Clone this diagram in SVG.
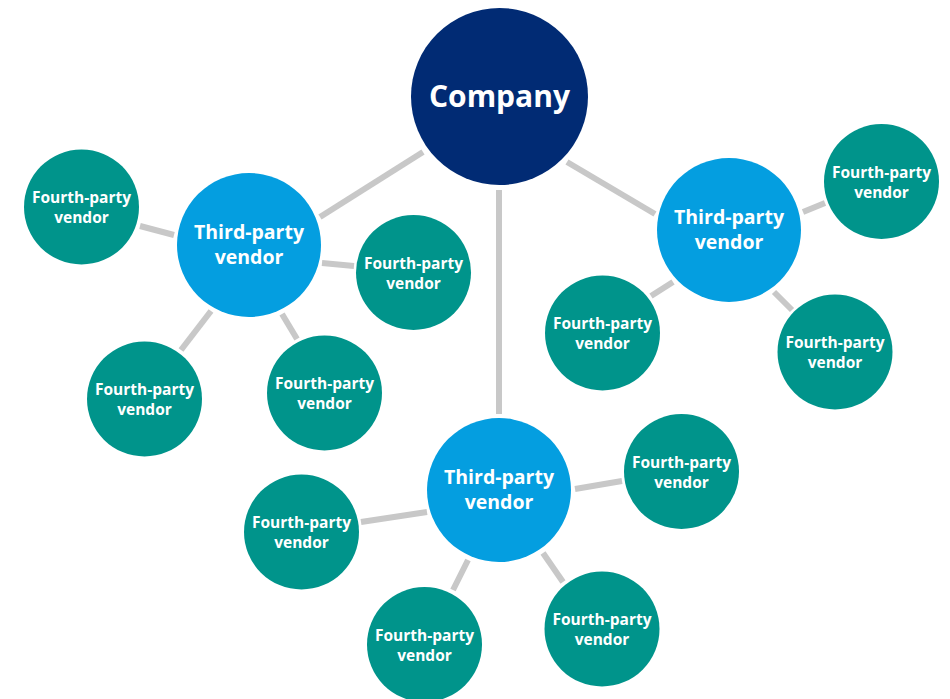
<svg xmlns="http://www.w3.org/2000/svg" width="950" height="699" viewBox="0 0 950 699">
  <style>
    .link { stroke: #c8c8c8; stroke-width: 6; fill: none; }
    .company { fill: #012b74; }
    .third { fill: #049ee0; }
    .fourth { fill: #00948b; }
    text { font-family: "Open Sans", "Liberation Sans", sans-serif; font-weight: 700; fill: #ffffff; text-anchor: middle; }
    .t1 { font-size: 30px; }
    .t3 { font-size: 19.5px; }
    .t4 { font-size: 15.5px; }
  </style>
  <rect width="950" height="699" fill="#ffffff"/>

  <g id="connectors">
    <!-- company to third-party vendors -->
    <line class="link" x1="423" y1="152" x2="320" y2="217"/>
    <line class="link" x1="567" y1="162" x2="655" y2="214"/>
    <line class="link" x1="499" y1="190" x2="499" y2="414"/>
    <!-- left cluster -->
    <line class="link" x1="140" y1="226" x2="174" y2="235"/>
    <line class="link" x1="322" y1="263" x2="354" y2="266"/>
    <line class="link" x1="211" y1="311" x2="181" y2="350"/>
    <line class="link" x1="282" y1="314" x2="297" y2="339"/>
    <!-- right cluster -->
    <line class="link" x1="803" y1="212" x2="825" y2="203"/>
    <line class="link" x1="673" y1="282" x2="651" y2="296"/>
    <line class="link" x1="774" y1="292" x2="792" y2="310"/>
    <!-- bottom cluster -->
    <line class="link" x1="361" y1="522" x2="427" y2="512"/>
    <line class="link" x1="575" y1="489" x2="622" y2="481"/>
    <line class="link" x1="468" y1="560" x2="453" y2="590"/>
    <line class="link" x1="543" y1="553" x2="563" y2="582"/>
  </g>

  <g id="company">
    <circle class="company" cx="499.5" cy="96.5" r="88.5"/>
    <text class="t1" x="499.5" y="107">Company</text>
  </g>

  <g id="third-left">
    <circle class="third" cx="249" cy="245" r="72"/>
    <text class="t3" x="249" y="239">Third-party</text>
    <text class="t3" x="249" y="264">vendor</text>
  </g>
  <g id="third-right">
    <circle class="third" cx="729" cy="230" r="72"/>
    <text class="t3" x="729" y="224">Third-party</text>
    <text class="t3" x="729" y="249">vendor</text>
  </g>
  <g id="third-bottom">
    <circle class="third" cx="499" cy="490" r="72"/>
    <text class="t3" x="499" y="484">Third-party</text>
    <text class="t3" x="499" y="509">vendor</text>
  </g>

  <g id="fourth-l1">
    <circle class="fourth" cx="81.5" cy="207" r="57.5"/>
    <text class="t4" x="81.5" y="203">Fourth-party</text>
    <text class="t4" x="81.5" y="223">vendor</text>
  </g>
  <g id="fourth-l2">
    <circle class="fourth" cx="413.5" cy="272.5" r="57.5"/>
    <text class="t4" x="413.5" y="268.5">Fourth-party</text>
    <text class="t4" x="413.5" y="288.5">vendor</text>
  </g>
  <g id="fourth-l3">
    <circle class="fourth" cx="144.5" cy="399" r="57.5"/>
    <text class="t4" x="144.5" y="395">Fourth-party</text>
    <text class="t4" x="144.5" y="415">vendor</text>
  </g>
  <g id="fourth-l4">
    <circle class="fourth" cx="324.5" cy="393" r="57.5"/>
    <text class="t4" x="324.5" y="389">Fourth-party</text>
    <text class="t4" x="324.5" y="409">vendor</text>
  </g>

  <g id="fourth-r1">
    <circle class="fourth" cx="881.5" cy="181.5" r="57.5"/>
    <text class="t4" x="881.5" y="177.5">Fourth-party</text>
    <text class="t4" x="881.5" y="197.5">vendor</text>
  </g>
  <g id="fourth-r2">
    <circle class="fourth" cx="602.5" cy="333" r="57.5"/>
    <text class="t4" x="602.5" y="329">Fourth-party</text>
    <text class="t4" x="602.5" y="349">vendor</text>
  </g>
  <g id="fourth-r3">
    <circle class="fourth" cx="835" cy="352" r="57.5"/>
    <text class="t4" x="835" y="348">Fourth-party</text>
    <text class="t4" x="835" y="368">vendor</text>
  </g>

  <g id="fourth-b1">
    <circle class="fourth" cx="301.5" cy="532" r="57.5"/>
    <text class="t4" x="301.5" y="528">Fourth-party</text>
    <text class="t4" x="301.5" y="548">vendor</text>
  </g>
  <g id="fourth-b2">
    <circle class="fourth" cx="681.5" cy="471.5" r="57.5"/>
    <text class="t4" x="681.5" y="467.5">Fourth-party</text>
    <text class="t4" x="681.5" y="487.5">vendor</text>
  </g>
  <g id="fourth-b3">
    <circle class="fourth" cx="424.5" cy="644.5" r="57.5"/>
    <text class="t4" x="424.5" y="640.5">Fourth-party</text>
    <text class="t4" x="424.5" y="660.5">vendor</text>
  </g>
  <g id="fourth-b4">
    <circle class="fourth" cx="602" cy="629" r="57.5"/>
    <text class="t4" x="602" y="625">Fourth-party</text>
    <text class="t4" x="602" y="645">vendor</text>
  </g>
</svg>
